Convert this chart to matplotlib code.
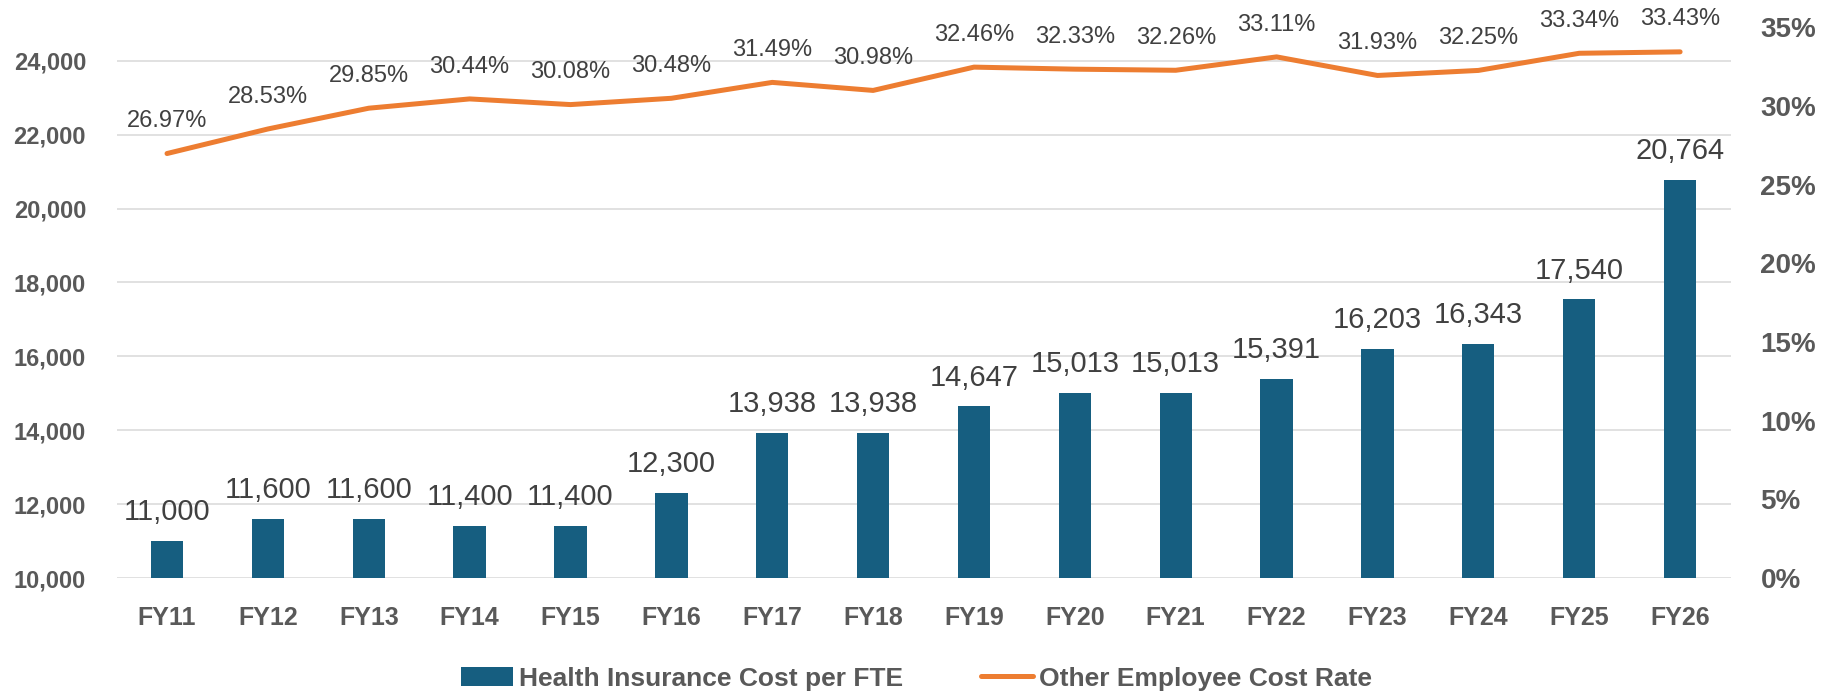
import numpy as np
import matplotlib
matplotlib.use("Agg")
import matplotlib.pyplot as plt
from matplotlib.ticker import FuncFormatter

years = ["FY11", "FY12", "FY13", "FY14", "FY15", "FY16", "FY17", "FY18",
         "FY19", "FY20", "FY21", "FY22", "FY23", "FY24", "FY25", "FY26"]
health_cost = [11000, 11600, 11600, 11400, 11400, 12300, 13938, 13938,
               14647, 15013, 15013, 15391, 16203, 16343, 17540, 20764]
other_rate = [26.97, 28.53, 29.85, 30.44, 30.08, 30.48, 31.49, 30.98,
              32.46, 32.33, 32.26, 33.11, 31.93, 32.25, 33.34, 33.43]

BAR_COLOR = "#165E80"
LINE_COLOR = "#ED7D31"
TICK_COLOR = "#595959"
LABEL_COLOR = "#404040"

plt.rcParams['font.family'] = ['Liberation Sans', 'DejaVu Sans']

fig = plt.figure(figsize=(18.33, 6.96), dpi=100)
ax = fig.add_axes([0.0636, 0.1695, 0.8805, 0.7915])
ax2 = ax.twinx()

x = np.arange(len(years))

# bars on left axis
bars = ax.bar(x, health_cost, width=0.32, color=BAR_COLOR, zorder=2,
              label="Health Insurance Cost per FTE")
ax.set_ylim(10000, 24910)
ax.set_yticks(np.arange(10000, 24001, 2000))
ax.yaxis.set_major_formatter(FuncFormatter(lambda v, p: "{:,.0f}".format(v)))
ax.set_xlim(-0.5, len(years) - 0.5)
ax.set_xticks(x)
ax.set_xticklabels(years)
ax.grid(axis="y", color="#D9D9D9", linewidth=1.1, zorder=0)
ax.set_axisbelow(True)

for xi, v in zip(x, health_cost):
    ax.annotate("{:,}".format(v), (xi, v), xytext=(0, 15), textcoords="offset points",
                ha="center", va="baseline", fontsize=21, color=LABEL_COLOR)

# line on right axis
line, = ax2.plot(x, np.array(other_rate) / 100, color=LINE_COLOR, linewidth=3.6,
                 solid_capstyle="round", zorder=3, label="Other Employee Cost Rate")
ax2.set_ylim(0, 0.35)
ax2.set_yticks(np.arange(0, 0.351, 0.05))
ax2.yaxis.set_major_formatter(FuncFormatter(lambda v, p: "{:.0f}%".format(v * 100)))

for xi, v in zip(x, other_rate):
    ax2.annotate("{:.2f}%".format(v), (xi, v / 100), xytext=(0, 19), textcoords="offset points",
                 ha="center", va="baseline", fontsize=17, color=LABEL_COLOR)

for a in (ax, ax2):
    for s in a.spines.values():
        s.set_visible(False)
    a.tick_params(length=0)

ax.tick_params(axis="y", pad=22, labelsize=17, labelcolor=TICK_COLOR)
ax.tick_params(axis="x", pad=20, labelsize=18, labelcolor=TICK_COLOR)
ax2.tick_params(axis="y", pad=21.5, labelsize=20, labelcolor=TICK_COLOR)
for lbl in ax.get_xticklabels() + ax.get_yticklabels() + ax2.get_yticklabels():
    lbl.set_fontweight("bold")

leg = fig.legend(handles=[bars, line], loc="center", bbox_to_anchor=(0.5, 0.025),
                 ncol=2, frameon=False, handlelength=1.97, handletextpad=0.23,
                 columnspacing=2.95, prop={"size": 19, "weight": "bold"})
for t in leg.get_texts():
    t.set_color(TICK_COLOR)

fig.savefig("out.png", dpi=100)
